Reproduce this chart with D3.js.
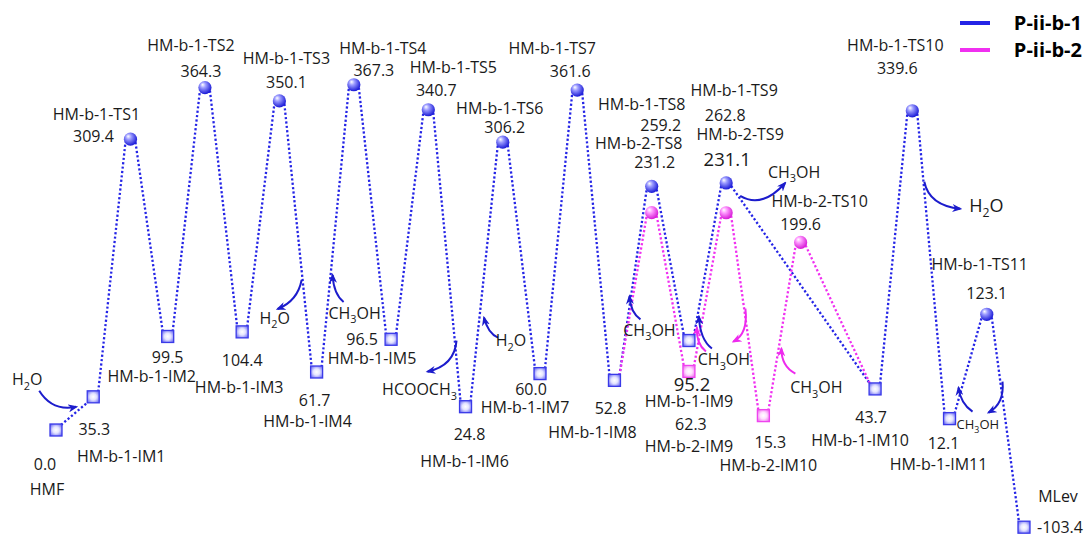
<!DOCTYPE html>
<html>
<head>
<meta charset="utf-8">
<script src="https://cdn.jsdelivr.net/npm/d3@7"></script>
<style>
  html, body { margin: 0; padding: 0; background: #fff; }
  svg { display: block; }
  text { font-family: "Open Sans", "Noto Sans", sans-serif; fill: #1a1a1a; }
</style>
</head>
<body>
<svg id="chart" width="1085" height="545"></svg>
<script>
// ---- Data -----------------------------------------------------------------
// Pathway P-ii-b-1: reaction step index, species name, relative energy (kJ/mol)
const b1Steps = [0, 1, 2, 3, 4, 5, 6, 7, 8, 9, 10, 11, 12, 13, 14, 15, 16, 17, 18, 22, 23, 24, 25, 26];
const b1Names = ["HMF", "HM-b-1-IM1", "HM-b-1-TS1", "HM-b-1-IM2", "HM-b-1-TS2", "HM-b-1-IM3",
  "HM-b-1-TS3", "HM-b-1-IM4", "HM-b-1-TS4", "HM-b-1-IM5", "HM-b-1-TS5", "HM-b-1-IM6",
  "HM-b-1-TS6", "HM-b-1-IM7", "HM-b-1-TS7", "HM-b-1-IM8", "HM-b-1-TS8", "HM-b-1-IM9",
  "HM-b-1-TS9", "HM-b-1-IM10", "HM-b-1-TS10", "HM-b-1-IM11", "HM-b-1-TS11", "MLev"];
const b1Energies = [0.0, 35.3, 309.4, 99.5, 364.3, 104.4, 350.1, 61.7, 367.3, 96.5, 340.7, 24.8,
  306.2, 60.0, 361.6, 52.8, 259.2, 95.2, 262.8, 43.7, 339.6, 12.1, 123.1, -103.4];

// Pathway P-ii-b-2: branches off at IM8 and rejoins at IM10
const b2Steps = [15, 16, 17, 18, 19, 20, 22];
const b2Names = ["HM-b-1-IM8", "HM-b-2-TS8", "HM-b-2-IM9", "HM-b-2-TS9", "HM-b-2-IM10", "HM-b-2-TS10", "HM-b-1-IM10"];
const b2Energies = [52.8, 231.2, 62.3, 231.1, 15.3, 199.6, 43.7];

const seriesNames = ["P-ii-b-1", "P-ii-b-2"];

// ---- Styling ----------------------------------------------------------------
const COLORS = { b1: "#2424e6", b2: "#f030f0", b1Arrow: "#1c1ccc", b2Arrow: "#ee2aee" };
const FONT = 16;

// n: name label offset, v: value label offset, vs: value font size,
// rel: node the offsets are measured from (defaults to the species itself)
const labelLayout = {
  "HMF": { n: [-9, 59], v: [-11, 34] },
  "HM-b-1-IM1": { n: [28, 60], v: [1, 33] },
  "HM-b-1-TS1": { n: [-34, -25], v: [-37, -3] },
  "HM-b-1-IM2": { n: [-16, 40], v: [0, 21] },
  "HM-b-1-TS2": { n: [-14, -42], v: [-4, -16] },
  "HM-b-1-IM3": { n: [-3, 56], v: [0, 29] },
  "HM-b-1-TS3": { n: [7, -43], v: [7, -19] },
  "HM-b-1-IM4": { n: [-9, 49], v: [-2, 28] },
  "HM-b-1-TS4": { n: [29, -36], v: [20, -14] },
  "HM-b-1-IM5": { n: [-19, 19], v: [-29, 0] },
  "HM-b-1-TS5": { n: [25, -42], v: [8, -19] },
  "HM-b-1-IM6": { n: [-1, 55], v: [4, 28] },
  "HM-b-1-TS6": { n: [-3, -34], v: [2, -15] },
  "HM-b-1-IM7": { n: [-15, 34], v: [-9, 16] },
  "HM-b-1-TS7": { n: [-25, -42], v: [-7, -19] },
  "HM-b-1-IM8": { n: [-22, 52], v: [-4, 28] },
  "HM-b-1-TS8": { n: [-10, -82], v: [9, -61] },
  "HM-b-2-TS8": { n: [-13, -43], v: [3, -24], rel: "HM-b-1-TS8" },
  "HM-b-1-IM9": { n: [0, 61], v: [3, 44], vs: 18.5 },
  "HM-b-2-IM9": { n: [0, 75], v: [2, 53] },
  "HM-b-1-TS9": { n: [8, -93], v: [-1, -68] },
  "HM-b-2-TS9": { n: [14, -49], v: [1, -23], vs: 18.5, rel: "HM-b-1-TS9" },
  "HM-b-2-IM10": { n: [5, 50], v: [7, 27] },
  "HM-b-2-TS10": { n: [19, -41], v: [0, -18] },
  "HM-b-1-IM10": { n: [-15, 51], v: [-4, 28] },
  "HM-b-1-TS10": { n: [-17, -65], v: [-15, -42] },
  "HM-b-1-IM11": { n: [-11, 46], v: [-6, 25] },
  "HM-b-1-TS11": { n: [-7, -50], v: [0, -21] },
  "MLev": { n: [34, -31], v: [36, 0] }
};

// Curved reaction arrows and released/added molecules, placed relative to a node
const annotations = [
  { at: "HM-b-1-IM1", color: "b1Arrow", path: [[-54, -6], [-41, 15], [-17, 10]], text: "H_2O", t: [-66, -17] },
  { at: "HM-b-1-IM4", color: "b1Arrow", path: [[-15, -92], [-19, -71], [-39, -63]], text: "H_2O", t: [-42, -54] },
  { at: "HM-b-1-IM4", color: "b1Arrow", path: [[27, -70], [17, -78], [16, -97]], text: "CH_3OH", t: [38, -59] },
  { at: "HM-b-1-IM6", color: "b1Arrow", path: [[-9, -66], [-11, -41], [-38, -35]], text: "HCOOCH_3", t: [-46, -17] },
  { at: "HM-b-1-IM7", color: "b1Arrow", path: [[-42, -36], [-52, -40], [-56, -56]], text: "H_2O", t: [-29, -33] },
  { at: "HM-b-1-IM8", color: "b1Arrow", path: [[26, -61], [16, -68], [15, -84]], text: "CH_3OH", t: [35, -50] },
  { at: "HM-b-2-IM9", color: "b2Arrow", path: [[17, -20], [7, -28], [8, -44]] },
  { at: "HM-b-1-IM9", color: "b1Arrow", path: [[23, 8], [11, -1], [10, -24]], text: "CH_3OH", t: [35, 19] },
  { at: "HM-b-2-IM10", color: "b2Arrow", path: [[-18, -107], [-15, -82], [-30, -74]] },
  { at: "HM-b-2-IM10", color: "b2Arrow", path: [[32, -42], [18, -49], [18, -67]], text: "CH_3OH", t: [53, -28] },
  { at: "HM-b-1-TS9", color: "b1Arrow", path: [[14, 13], [36, 26], [59, 0]], text: "CH_3OH", t: [68, -11] },
  { at: "HM-b-1-TS10", color: "b1Arrow", path: [[12, 71], [17, 95], [48, 98]], text: "H_2O", t: [74, 95], size: 18 },
  { at: "HM-b-1-IM11", color: "b1Arrow", path: [[23, -7], [11, -15], [9, -31]], text: "CH_3OH", t: [7, 6], size: 13, anchor: "start" },
  { at: "HM-b-1-IM11", color: "b1Arrow", path: [[53, -37], [55, -15], [39, -6]] }
];

// ---- Scales -------------------------------------------------------------------
const svg = d3.select("#chart");
svg.append("rect").attr("width", 1085).attr("height", 545).attr("fill", "#fff");

const x = d3.scaleLinear().domain([0, 26]).range([56, 1024]);
const y = d3.scaleLinear().domain([-110, 370]).range([533.4, 82.2]);

const nodesB1 = b1Names.map((n, i) => ({ name: n, step: b1Steps[i], e: b1Energies[i], series: "b1" }));
const nodesB2 = b2Names.map((n, i) => ({ name: n, step: b2Steps[i], e: b2Energies[i], series: "b2" }));
const isTS = d => d.name.includes("TS");
nodesB1.concat(nodesB2).forEach(d => { d.x = x(d.step); d.y = y(d.e); });
const nodeByName = {};
nodesB1.forEach(d => { nodeByName[d.name] = d; });
nodesB2.forEach(d => { if (!nodeByName[d.name]) nodeByName[d.name] = d; });

// ---- Gradients & arrow markers ---------------------------------------------------
const defs = svg.append("defs");
function radial(id, stops, cx, cy, fx, fy) {
  const g = defs.append("radialGradient").attr("id", id)
    .attr("cx", cx).attr("cy", cy).attr("r", "0.6").attr("fx", fx).attr("fy", fy);
  stops.forEach(([o, c]) => g.append("stop").attr("offset", o).attr("stop-color", c));
}
radial("sqB1", [[0, "#ffffff"], [0.45, "#e4e4ff"], [1, "#7070f4"]], "0.5", "0.5", "0.5", "0.5");
radial("sqB2", [[0, "#ffffff"], [0.45, "#ffe0ff"], [1, "#f070f0"]], "0.5", "0.5", "0.5", "0.5");
radial("ciB1", [[0, "#ffffff"], [0.35, "#9c9cff"], [1, "#1e1ed8"]], "0.42", "0.38", "0.32", "0.28");
radial("ciB2", [[0, "#ffffff"], [0.35, "#ff9cff"], [1, "#d81ed8"]], "0.42", "0.38", "0.32", "0.28");

["b1Arrow", "b2Arrow"].forEach(k => {
  defs.append("marker").attr("id", "head-" + k)
    .attr("viewBox", "0 0 10 8").attr("refX", 8).attr("refY", 4)
    .attr("markerWidth", 10).attr("markerHeight", 8)
    .attr("markerUnits", "userSpaceOnUse").attr("orient", "auto")
    .append("path").attr("d", "M0,0 L10,4 L0,8 L3,4 Z").attr("fill", COLORS[k]);
});

// ---- Connector lines ---------------------------------------------------------------
// Lines meet squares at a corner and circles on their lower flank.
function attach(node, other) {
  const dx = other.x > node.x ? 5 : -5;
  const dy = isTS(node) ? 3 : (other.y < node.y ? -5 : 5);
  return [node.x + dx, node.y + dy];
}
function drawPath(nodes, color) {
  const g = svg.append("g");
  for (let i = 0; i < nodes.length - 1; i++) {
    const a = nodes[i], b = nodes[i + 1];
    g.append("path")
      .attr("d", d3.line()([attach(a, b), attach(b, a)]))
      .attr("stroke", color).attr("stroke-width", 2.3)
      .attr("stroke-dasharray", "2.2 2.2").attr("fill", "none");
  }
}
drawPath(nodesB1, COLORS.b1);
// b-2 endpoints share the b-1 intermediates
const b2Drawn = nodesB2.map(d => d.name.startsWith("HM-b-1") ? nodeByName[d.name] : d);
drawPath(b2Drawn, COLORS.b2);

// ---- Rich text helper (digit subscripts marked with "_") ---------------------------------
function richText(g, str, px, py, size, anchor) {
  const t = g.append("text").attr("x", px).attr("y", py).attr("dy", "0.35em")
    .attr("font-size", size).attr("text-anchor", anchor || "middle");
  const parts = str.split(/_(\d)/);
  let sub = 0;
  parts.forEach((p, i) => {
    if (p === "") return;
    if (i % 2 === 1) {
      t.append("tspan").text(p).attr("font-size", size * 0.68).attr("dy", size * 0.28);
      sub = size * 0.28;
    } else {
      const ts = t.append("tspan").text(p);
      if (sub) { ts.attr("dy", -sub); sub = 0; }
    }
  });
  return t;
}

// ---- Reaction arrows -----------------------------------------------------------------
const annG = svg.append("g");
annotations.forEach(a => {
  const n = nodeByName[a.at];
  const [s, c, e] = a.path.map(([dx, dy]) => [n.x + dx, n.y + dy]);
  annG.append("path")
    .attr("d", `M${s[0]},${s[1]} Q${c[0]},${c[1]} ${e[0]},${e[1]}`)
    .attr("fill", "none").attr("stroke", COLORS[a.color]).attr("stroke-width", 2)
    .attr("marker-end", `url(#head-${a.color})`);
  if (a.text) richText(annG, a.text, n.x + a.t[0], n.y + a.t[1], a.size || FONT, a.anchor);
});

// ---- Markers -----------------------------------------------------------------------
function drawMarkers(nodes, key) {
  const g = svg.append("g");
  g.selectAll("rect").data(nodes.filter(d => !isTS(d))).join("rect")
    .attr("x", d => d.x - 6).attr("y", d => d.y - 6)
    .attr("width", 12).attr("height", 12)
    .attr("fill", `url(#sq${key.toUpperCase()})`)
    .attr("stroke", key === "b1" ? "#3a3ae8" : "#ee44ee").attr("stroke-width", 1.3);
  g.selectAll("circle").data(nodes.filter(isTS)).join("circle")
    .attr("cx", d => d.x).attr("cy", d => d.y).attr("r", 6.6)
    .attr("fill", `url(#ci${key.toUpperCase()})`);
}
drawMarkers(nodesB2.filter(d => d.name.startsWith("HM-b-2")), "b2");
drawMarkers(nodesB1, "b1");

// ---- Species labels -------------------------------------------------------------------
const labG = svg.append("g");
Object.values(nodeByName).forEach(d => {
  const L = labelLayout[d.name];
  if (!L) return;
  const ref = L.rel ? nodeByName[L.rel] : d;
  labG.append("text").attr("x", ref.x + L.n[0]).attr("y", ref.y + L.n[1]).attr("dy", "0.35em")
    .attr("text-anchor", "middle").attr("font-size", FONT).text(d.name);
  labG.append("text").attr("x", ref.x + L.v[0]).attr("y", ref.y + L.v[1]).attr("dy", "0.35em")
    .attr("text-anchor", "middle").attr("font-size", L.vs || FONT).text(d.e.toFixed(1));
});

// ---- Legend ------------------------------------------------------------------------
const legend = svg.append("g");
seriesNames.forEach((s, i) => {
  const ly = 23 + i * 27;
  legend.append("line").attr("x1", 960).attr("x2", 990).attr("y1", ly).attr("y2", ly)
    .attr("stroke", i === 0 ? COLORS.b1 : COLORS.b2).attr("stroke-width", 4);
  legend.append("text").attr("x", 1082).attr("y", ly).attr("dy", "0.35em")
    .attr("text-anchor", "end").attr("font-size", 20).attr("font-weight", "bold")
    .style("fill", "#000").text(s);
});
</script>
</body>
</html>
